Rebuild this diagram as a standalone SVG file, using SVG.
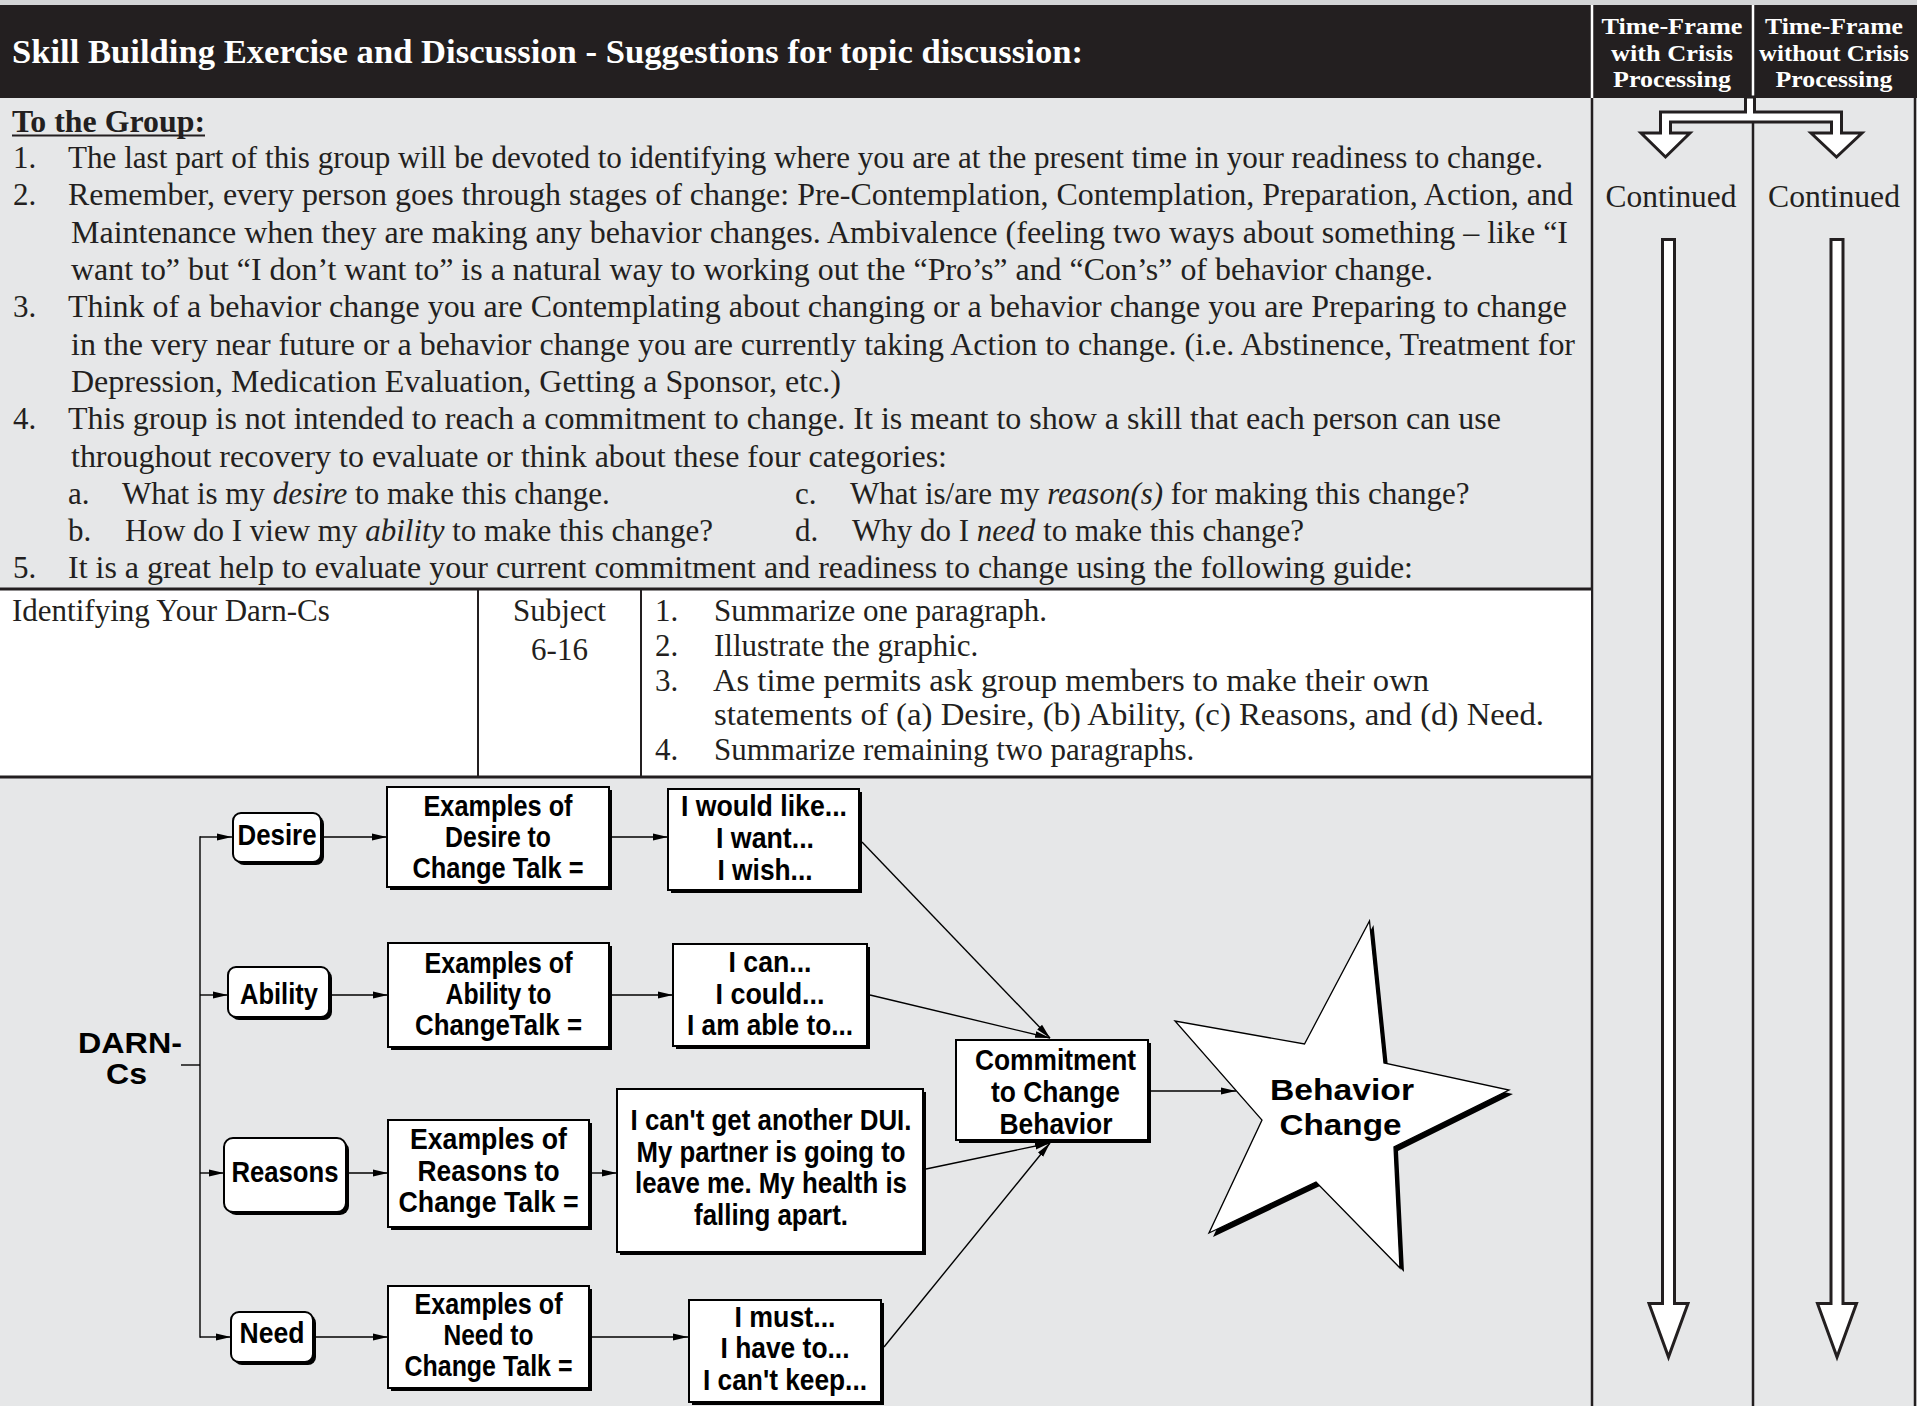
<svg xmlns="http://www.w3.org/2000/svg" width="1917" height="1406" viewBox="0 0 1917 1406">
<defs>
<style>
.bt{font-family:"Liberation Serif","Times New Roman",serif;font-size:31px;fill:#231f20}
.bti{font-style:italic}
.hd{font-family:"Liberation Serif","Times New Roman",serif;font-weight:bold;fill:#ffffff}
.hc{font-size:24px;text-anchor:middle}
.dt{font-family:"Liberation Sans",Arial,sans-serif;font-weight:bold;font-size:29px;fill:#000000;text-anchor:middle}
.bx{fill:#ffffff;stroke:#000000;stroke-width:2}
.sh{fill:#000000}
.cn{stroke:#000000;stroke-width:1.4;fill:none}
.col{stroke:#231f20;stroke-width:2.5}
.big{fill:#ffffff;stroke:#231f20;stroke-width:3;stroke-linejoin:miter}
</style>
<marker id="ah" markerWidth="15" markerHeight="8" refX="15" refY="4" orient="auto" markerUnits="userSpaceOnUse">
<path d="M0,0.6 L15,4 L0,7.4 z" fill="#000000"/>
</marker>
</defs>

<!-- backgrounds -->
<rect x="0" y="0" width="1917" height="1406" fill="#e6e7e8"/>
<rect x="0" y="0" width="1917" height="5" fill="#d3d4d6"/>
<rect x="0" y="5" width="1917" height="93" fill="#231f20"/>
<line x1="1592" y1="5" x2="1592" y2="98" stroke="#ffffff" stroke-width="2.5"/>
<line x1="1753" y1="5" x2="1753" y2="98" stroke="#ffffff" stroke-width="2.5"/>

<g id="header">
<text class="hd" x="12" y="63" font-size="34" textLength="1071" lengthAdjust="spacingAndGlyphs">Skill Building Exercise and Discussion - Suggestions for topic discussion:</text>
<text class="hd hc" x="1672" y="33.5" textLength="141" lengthAdjust="spacingAndGlyphs">Time-Frame</text>
<text class="hd hc" x="1672" y="60.5" textLength="122" lengthAdjust="spacingAndGlyphs">with Crisis</text>
<text class="hd hc" x="1672" y="86.5" textLength="118" lengthAdjust="spacingAndGlyphs">Processing</text>
<text class="hd hc" x="1834" y="33.5" textLength="138" lengthAdjust="spacingAndGlyphs">Time-Frame</text>
<text class="hd hc" x="1834" y="60.5" textLength="150" lengthAdjust="spacingAndGlyphs">without Crisis</text>
<text class="hd hc" x="1834" y="86.5" textLength="117" lengthAdjust="spacingAndGlyphs">Processing</text>
</g>

<!-- right columns -->
<g id="timeframe-columns">
<line class="col" x1="1592" y1="98" x2="1592" y2="1406"/>
<line class="col" x1="1753" y1="98" x2="1753" y2="1406"/>
<line class="col" x1="1915" y1="98" x2="1915" y2="1406"/>
<polygon class="big" points="1745.5,97 1754.5,97 1754.5,112 1841.5,112 1841.5,133 1862,133 1836.5,157 1811,133 1831.5,133 1831.5,122 1670.5,122 1670.5,133 1690,133 1665.5,157 1641,133 1660.5,133 1660.5,112 1745.5,112"/>
<text class="bt" x="1671" y="207" text-anchor="middle" textLength="131" lengthAdjust="spacingAndGlyphs">Continued</text>
<text class="bt" x="1834" y="207" text-anchor="middle" textLength="132" lengthAdjust="spacingAndGlyphs">Continued</text>
<polygon class="big" points="1662.5,239.5 1674.5,239.5 1674.5,1303.5 1688,1303.5 1668.5,1357 1649,1303.5 1662.5,1303.5"/>
<polygon class="big" points="1831,239.5 1843,239.5 1843,1303.5 1856.5,1303.5 1837,1357 1817.5,1303.5 1831,1303.5"/>
</g>

<!-- instructions -->
<g id="instructions">
<text class="bt" x="12" y="132" font-weight="bold" textLength="193" lengthAdjust="spacingAndGlyphs">To the Group:</text>
<line x1="12" y1="135.5" x2="205" y2="135.5" stroke="#231f20" stroke-width="2"/>
<text class="bt" x="13" y="168">1.</text>
<text class="bt" x="68" y="168" textLength="1475" lengthAdjust="spacingAndGlyphs">The last part of this group will be devoted to identifying where you are at the present time in your readiness to change.</text>
<text class="bt" x="13" y="205">2.</text>
<text class="bt" x="68" y="205" textLength="1505" lengthAdjust="spacingAndGlyphs">Remember, every person goes through stages of change: Pre-Contemplation, Contemplation, Preparation, Action, and</text>
<text class="bt" x="71" y="242.5" textLength="1497" lengthAdjust="spacingAndGlyphs">Maintenance when they are making any behavior changes. Ambivalence (feeling two ways about something – like “I</text>
<text class="bt" x="71" y="280" textLength="1362" lengthAdjust="spacingAndGlyphs">want to” but “I don’t want to” is a natural way to working out the “Pro’s” and “Con’s” of behavior change.</text>
<text class="bt" x="13" y="317">3.</text>
<text class="bt" x="68" y="317" textLength="1499" lengthAdjust="spacingAndGlyphs">Think of a behavior change you are Contemplating about changing or a behavior change you are Preparing to change</text>
<text class="bt" x="71" y="354.5" textLength="1504" lengthAdjust="spacingAndGlyphs">in the very near future or a behavior change you are currently taking Action to change. (i.e. Abstinence, Treatment for</text>
<text class="bt" x="71" y="392" textLength="770" lengthAdjust="spacingAndGlyphs">Depression, Medication Evaluation, Getting a Sponsor, etc.)</text>
<text class="bt" x="13" y="429">4.</text>
<text class="bt" x="68" y="429" textLength="1433" lengthAdjust="spacingAndGlyphs">This group is not intended to reach a commitment to change. It is meant to show a skill that each person can use</text>
<text class="bt" x="71" y="466.5" textLength="876" lengthAdjust="spacingAndGlyphs">throughout recovery to evaluate or think about these four categories:</text>
<text class="bt" x="68" y="503.5">a.</text>
<text class="bt" x="122" y="503.5">What is my <tspan class="bti">desire</tspan> to make this change.</text>
<text class="bt" x="795" y="503.5">c.</text>
<text class="bt" x="850" y="503.5">What is/are my <tspan class="bti">reason(s)</tspan> for making this change?</text>
<text class="bt" x="68" y="541">b.</text>
<text class="bt" x="125" y="541">How do I view my <tspan class="bti">ability</tspan> to make this change?</text>
<text class="bt" x="795" y="541">d.</text>
<text class="bt" x="852" y="541">Why do I <tspan class="bti">need</tspan> to make this change?</text>
<text class="bt" x="13" y="578">5.</text>
<text class="bt" x="68" y="578" textLength="1345" lengthAdjust="spacingAndGlyphs">It is a great help to evaluate your current commitment and readiness to change using the following guide:</text>
</g>

<!-- guide table -->
<g id="guide-table">
<rect x="0" y="589" width="1591" height="188" fill="#ffffff"/>
<line x1="0" y1="589" x2="1591" y2="589" stroke="#231f20" stroke-width="3"/>
<line x1="0" y1="777" x2="1591" y2="777" stroke="#231f20" stroke-width="3"/>
<line x1="478" y1="589" x2="478" y2="777" stroke="#231f20" stroke-width="2"/>
<line x1="641" y1="589" x2="641" y2="777" stroke="#231f20" stroke-width="2"/>
<text class="bt" x="12" y="621">Identifying Your Darn-Cs</text>
<text class="bt" x="559.5" y="621" text-anchor="middle">Subject</text>
<text class="bt" x="559.5" y="660" text-anchor="middle">6-16</text>
<text class="bt" x="655" y="621">1.</text>
<text class="bt" x="714" y="621">Summarize one paragraph.</text>
<text class="bt" x="655" y="656">2.</text>
<text class="bt" x="714" y="656">Illustrate the graphic.</text>
<text class="bt" x="655" y="691">3.</text>
<text class="bt" x="713" y="691" textLength="716" lengthAdjust="spacingAndGlyphs">As time permits ask group members to make their own</text>
<text class="bt" x="714" y="725" textLength="830" lengthAdjust="spacingAndGlyphs">statements of (a) Desire, (b) Ability, (c) Reasons, and (d) Need.</text>
<text class="bt" x="655" y="760">4.</text>
<text class="bt" x="714" y="760">Summarize remaining two paragraphs.</text>
</g>

<!-- connectors -->
<g id="connectors">
<line class="cn" x1="181" y1="1065" x2="200" y2="1065"/>
<line class="cn" x1="200" y1="836.3" x2="200" y2="1337.7"/>
<line class="cn" x1="200" y1="837" x2="232" y2="837" marker-end="url(#ah)"/>
<line class="cn" x1="200" y1="995" x2="228" y2="995" marker-end="url(#ah)"/>
<line class="cn" x1="200" y1="1173" x2="224" y2="1173" marker-end="url(#ah)"/>
<line class="cn" x1="200" y1="1337" x2="231" y2="1337" marker-end="url(#ah)"/>
<line class="cn" x1="324" y1="837" x2="387" y2="837" marker-end="url(#ah)"/>
<line class="cn" x1="332" y1="995" x2="388" y2="995" marker-end="url(#ah)"/>
<line class="cn" x1="349" y1="1173" x2="388" y2="1173" marker-end="url(#ah)"/>
<line class="cn" x1="315" y1="1337" x2="388" y2="1337" marker-end="url(#ah)"/>
<line class="cn" x1="612" y1="837" x2="668" y2="837" marker-end="url(#ah)"/>
<line class="cn" x1="612" y1="995" x2="673" y2="995" marker-end="url(#ah)"/>
<line class="cn" x1="592" y1="1173" x2="617" y2="1173" marker-end="url(#ah)"/>
<line class="cn" x1="592" y1="1337" x2="688" y2="1337" marker-end="url(#ah)"/>
<line class="cn" x1="862" y1="842" x2="1050" y2="1038" marker-end="url(#ah)"/>
<line class="cn" x1="870" y1="995" x2="1050" y2="1038" marker-end="url(#ah)"/>
<line class="cn" x1="926" y1="1169" x2="1050" y2="1143" marker-end="url(#ah)"/>
<line class="cn" x1="884" y1="1347" x2="1050" y2="1143" marker-end="url(#ah)"/>
<line class="cn" x1="1151" y1="1091" x2="1236" y2="1091" marker-end="url(#ah)"/>
</g>

<!-- diagram nodes -->
<g id="darn-cs">
<text class="dt" x="130" y="1053" textLength="104" lengthAdjust="spacingAndGlyphs">DARN-</text>
<text class="dt" x="126.5" y="1084" textLength="41" lengthAdjust="spacingAndGlyphs">Cs</text>
</g>

<g id="desire">
<rect class="sh" x="236" y="816" width="88" height="49" rx="8"/>
<rect class="bx" x="233" y="813" width="88" height="49" rx="8"/>
<text class="dt" x="277" y="845" textLength="79" lengthAdjust="spacingAndGlyphs">Desire</text>
</g>
<g id="examples-desire">
<rect class="sh" x="390" y="790" width="222" height="100"/>
<rect class="bx" x="387" y="787" width="222" height="100"/>
<text class="dt" x="498" y="816" textLength="149" lengthAdjust="spacingAndGlyphs">Examples of</text>
<text class="dt" x="498" y="847" textLength="106" lengthAdjust="spacingAndGlyphs">Desire to</text>
<text class="dt" x="498" y="878" textLength="171" lengthAdjust="spacingAndGlyphs">Change Talk =</text>
</g>
<g id="desire-talk">
<rect class="sh" x="671" y="792" width="191" height="101"/>
<rect class="bx" x="668" y="789" width="191" height="101"/>
<text class="dt" x="764" y="816" textLength="166" lengthAdjust="spacingAndGlyphs">I would like...</text>
<text class="dt" x="765" y="848" textLength="98" lengthAdjust="spacingAndGlyphs">I want...</text>
<text class="dt" x="765" y="880" textLength="95" lengthAdjust="spacingAndGlyphs">I wish...</text>
</g>

<g id="ability">
<rect class="sh" x="231" y="970" width="101" height="50" rx="8"/>
<rect class="bx" x="228" y="967" width="101" height="50" rx="8"/>
<text class="dt" x="279" y="1004" textLength="78" lengthAdjust="spacingAndGlyphs">Ability</text>
</g>
<g id="examples-ability">
<rect class="sh" x="391" y="946" width="221" height="104"/>
<rect class="bx" x="388" y="943" width="221" height="104"/>
<text class="dt" x="498.5" y="973" textLength="148" lengthAdjust="spacingAndGlyphs">Examples of</text>
<text class="dt" x="498.5" y="1004" textLength="106" lengthAdjust="spacingAndGlyphs">Ability to</text>
<text class="dt" x="498.5" y="1035" textLength="167" lengthAdjust="spacingAndGlyphs">ChangeTalk =</text>
</g>
<g id="ability-talk">
<rect class="sh" x="676" y="947" width="194" height="102"/>
<rect class="bx" x="673" y="944" width="194" height="102"/>
<text class="dt" x="770" y="972" textLength="83" lengthAdjust="spacingAndGlyphs">I can...</text>
<text class="dt" x="770" y="1004" textLength="109" lengthAdjust="spacingAndGlyphs">I could...</text>
<text class="dt" x="770" y="1035" textLength="166" lengthAdjust="spacingAndGlyphs">I am able to...</text>
</g>

<g id="reasons">
<rect class="sh" x="227" y="1141" width="122" height="74" rx="9"/>
<rect class="bx" x="224" y="1138" width="122" height="74" rx="9"/>
<text class="dt" x="285" y="1182" textLength="107" lengthAdjust="spacingAndGlyphs">Reasons</text>
</g>
<g id="examples-reasons">
<rect class="sh" x="391" y="1123" width="201" height="107"/>
<rect class="bx" x="388" y="1120" width="201" height="107"/>
<text class="dt" x="488.5" y="1149" textLength="157" lengthAdjust="spacingAndGlyphs">Examples of</text>
<text class="dt" x="488.5" y="1181" textLength="142" lengthAdjust="spacingAndGlyphs">Reasons to</text>
<text class="dt" x="488.5" y="1212" textLength="180" lengthAdjust="spacingAndGlyphs">Change Talk =</text>
</g>
<g id="reasons-talk">
<rect class="sh" x="620" y="1092" width="306" height="163"/>
<rect class="bx" x="617" y="1089" width="306" height="163"/>
<text class="dt" x="771" y="1130" textLength="281" lengthAdjust="spacingAndGlyphs">I can't get another DUI.</text>
<text class="dt" x="771" y="1162" textLength="269" lengthAdjust="spacingAndGlyphs">My partner is going to</text>
<text class="dt" x="771" y="1193" textLength="272" lengthAdjust="spacingAndGlyphs">leave me. My health is</text>
<text class="dt" x="771" y="1225" textLength="154" lengthAdjust="spacingAndGlyphs">falling apart.</text>
</g>

<g id="need">
<rect class="sh" x="234" y="1315" width="82" height="50" rx="8"/>
<rect class="bx" x="231" y="1312" width="82" height="50" rx="8"/>
<text class="dt" x="272" y="1343" textLength="65" lengthAdjust="spacingAndGlyphs">Need</text>
</g>
<g id="examples-need">
<rect class="sh" x="391" y="1289" width="201" height="102"/>
<rect class="bx" x="388" y="1286" width="201" height="102"/>
<text class="dt" x="488.5" y="1314" textLength="148" lengthAdjust="spacingAndGlyphs">Examples of</text>
<text class="dt" x="488.5" y="1345" textLength="90" lengthAdjust="spacingAndGlyphs">Need to</text>
<text class="dt" x="488.5" y="1376" textLength="168" lengthAdjust="spacingAndGlyphs">Change Talk =</text>
</g>
<g id="need-talk">
<rect class="sh" x="692" y="1303" width="192" height="102"/>
<rect class="bx" x="689" y="1300" width="192" height="102"/>
<text class="dt" x="785" y="1327" textLength="101" lengthAdjust="spacingAndGlyphs">I must...</text>
<text class="dt" x="785" y="1358" textLength="129" lengthAdjust="spacingAndGlyphs">I have to...</text>
<text class="dt" x="785" y="1390" textLength="164" lengthAdjust="spacingAndGlyphs">I can't keep...</text>
</g>

<g id="commitment">
<rect class="sh" x="959" y="1043" width="192" height="100"/>
<rect class="bx" x="956" y="1040" width="192" height="100"/>
<text class="dt" x="1055.5" y="1070" textLength="161" lengthAdjust="spacingAndGlyphs">Commitment</text>
<text class="dt" x="1055.5" y="1102" textLength="129" lengthAdjust="spacingAndGlyphs">to Change</text>
<text class="dt" x="1056" y="1134" textLength="113" lengthAdjust="spacingAndGlyphs">Behavior</text>
</g>

<g id="behavior-change">
<polygon transform="translate(4,4)" fill="#000000" points="1369.5,921 1384,1063 1509,1090 1394,1147 1400,1268 1316,1182 1209,1233 1262,1120 1175,1021 1304.5,1044"/>
<polygon fill="#ffffff" stroke="#000000" stroke-width="1.3" stroke-linejoin="miter" points="1369.5,921 1384,1063 1509,1090 1394,1147 1400,1268 1316,1182 1209,1233 1262,1120 1175,1021 1304.5,1044"/>
<text class="dt" x="1342" y="1100" font-size="34" textLength="144" lengthAdjust="spacingAndGlyphs">Behavior</text>
<text class="dt" x="1340.5" y="1135" font-size="34" textLength="122" lengthAdjust="spacingAndGlyphs">Change</text>
</g>
</svg>
